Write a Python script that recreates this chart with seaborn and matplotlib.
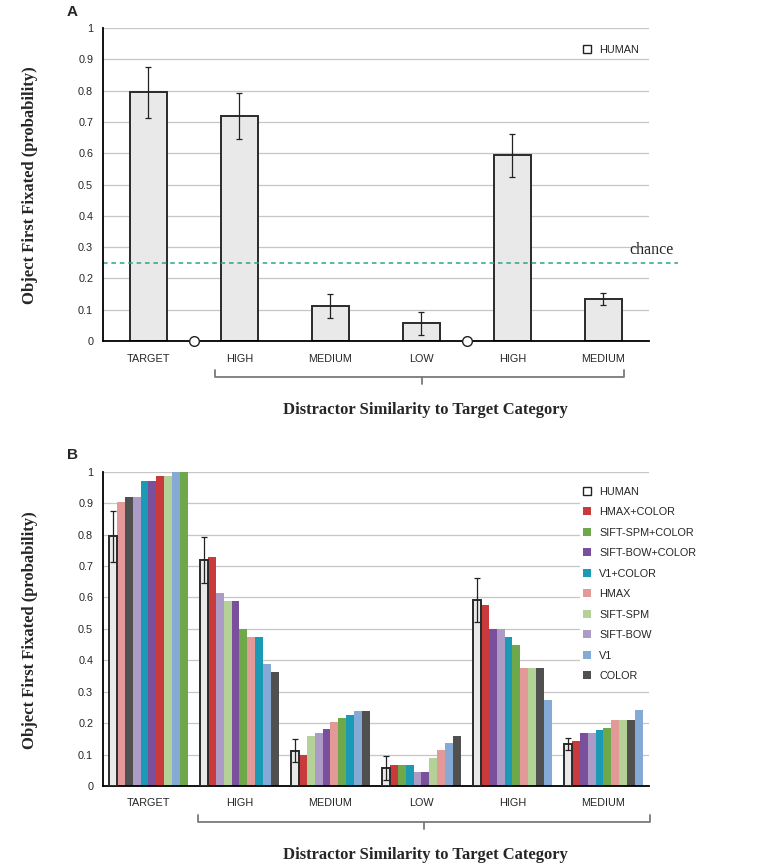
import numpy as np
import pandas as pd
import matplotlib
matplotlib.use('Agg')
import matplotlib.pyplot as plt
from matplotlib.patches import Patch
from matplotlib.lines import Line2D
import seaborn as sns

# categories along the x axis (two blocks of distractor similarity after TARGET)
groups = ['TARGET', 'HIGH', 'MEDIUM', 'LOW', 'HIGH', 'MEDIUM']

# human data (panel A and first bar of every group in panel B)
human = [0.795, 0.72, 0.112, 0.057, 0.593, 0.135]
human_err = [0.081, 0.073, 0.037, 0.037, 0.070, 0.019]

# model data, one value per group
hmax_color = [0.985, 0.728, 0.100, 0.068, 0.575, 0.142]
siftspm_color = [1.000, 0.500, 0.215, 0.068, 0.450, 0.185]
siftbow_color = [0.970, 0.590, 0.182, 0.045, 0.500, 0.167]
v1_color = [0.970, 0.475, 0.226, 0.068, 0.475, 0.177]
hmax = [0.905, 0.475, 0.203, 0.113, 0.375, 0.210]
siftspm = [0.985, 0.590, 0.158, 0.090, 0.375, 0.210]
siftbow = [0.920, 0.615, 0.170, 0.045, 0.500, 0.167]
v1 = [1.000, 0.387, 0.237, 0.137, 0.275, 0.243]
color_only = [0.920, 0.362, 0.237, 0.160, 0.375, 0.210]

models = ['HUMAN', 'HMAX+COLOR', 'SIFT-SPM+COLOR', 'SIFT-BOW+COLOR', 'V1+COLOR',
          'HMAX', 'SIFT-SPM', 'SIFT-BOW', 'V1', 'COLOR']
values = dict(zip(models, [human, hmax_color, siftspm_color, siftbow_color, v1_color,
                           hmax, siftspm, siftbow, v1, color_only]))

# order in which the bars appear inside each group
order_target = ['HUMAN', 'HMAX', 'COLOR', 'SIFT-BOW', 'V1+COLOR', 'SIFT-BOW+COLOR',
                'HMAX+COLOR', 'SIFT-SPM', 'V1', 'SIFT-SPM+COLOR']
order_high1 = ['HUMAN', 'HMAX+COLOR', 'SIFT-BOW', 'SIFT-SPM', 'SIFT-BOW+COLOR',
               'SIFT-SPM+COLOR', 'HMAX', 'V1+COLOR', 'V1', 'COLOR']
order_med1 = ['HUMAN', 'HMAX+COLOR', 'SIFT-SPM', 'SIFT-BOW', 'SIFT-BOW+COLOR',
              'HMAX', 'SIFT-SPM+COLOR', 'V1+COLOR', 'V1', 'COLOR']
order_low = ['HUMAN', 'HMAX+COLOR', 'SIFT-SPM+COLOR', 'V1+COLOR', 'SIFT-BOW',
             'SIFT-BOW+COLOR', 'SIFT-SPM', 'HMAX', 'V1', 'COLOR']
order_high2 = ['HUMAN', 'HMAX+COLOR', 'SIFT-BOW+COLOR', 'SIFT-BOW', 'V1+COLOR',
               'SIFT-SPM+COLOR', 'HMAX', 'SIFT-SPM', 'COLOR', 'V1']
order_med2 = ['HUMAN', 'HMAX+COLOR', 'SIFT-BOW+COLOR', 'SIFT-BOW', 'V1+COLOR',
              'SIFT-SPM+COLOR', 'HMAX', 'SIFT-SPM', 'COLOR', 'V1']
orders = [order_target, order_high1, order_med1, order_low, order_high2, order_med2]

palette = {'HUMAN': '#e9e9e9', 'HMAX+COLOR': '#c83a3c', 'SIFT-SPM+COLOR': '#6fa84a',
           'SIFT-BOW+COLOR': '#7a4f9c', 'V1+COLOR': '#1b9ab6', 'HMAX': '#e49999',
           'SIFT-SPM': '#b4d197', 'SIFT-BOW': '#ab9bc6', 'V1': '#86aad6',
           'COLOR': '#505050'}

sns.set_style('white')
plt.rcParams['font.family'] = ['Liberation Sans', 'DejaVu Sans']
plt.rcParams['axes.linewidth'] = 1.3

fig = plt.figure(figsize=(7.65, 8.68), dpi=100)
axA = fig.add_axes([0.1346, 0.6071, 0.7137, 0.3606])
axB = fig.add_axes([0.1346, 0.0945, 0.7137, 0.3621])

tick_fs = 7.8
grid_c = '#c6c6c6'


def style_axes(ax):
    ax.set_ylim(0, 1)
    ax.set_xlim(-0.5, 5.5)
    ax.set_yticks(np.arange(0, 1.01, 0.1))
    ax.set_yticklabels([f'{v:g}' for v in np.arange(0, 1.01, 0.1).round(1)], fontsize=tick_fs)
    ax.set_xticks(range(len(groups)))
    ax.set_xticklabels(groups, fontsize=tick_fs)
    ax.set_xticks(np.arange(0.5, 6, 1), minor=True)
    ax.tick_params(axis='x', which='major', length=0, pad=9)
    ax.tick_params(axis='x', which='minor', length=4, width=1.1, direction='out', color='black')
    ax.tick_params(axis='y', length=3, width=1.0, direction='out', color='black', pad=4)
    ax.set_xlabel('')
    ax.set_ylabel('')
    ax.grid(axis='y', color=grid_c, linewidth=0.9)
    ax.set_axisbelow(True)
    for s in ['top', 'right']:
        ax.spines[s].set_visible(False)
    for s in ['left', 'bottom']:
        ax.spines[s].set_color('black')


# ---------------- panel A ----------------
dfa = pd.DataFrame({'pos': range(len(groups)), 'value': human})
sns.barplot(data=dfa, x='pos', y='value', color=palette['HUMAN'], width=0.4, saturation=1,
            edgecolor='#2a2a2a', linewidth=1.4, errorbar=None, ax=axA)
axA.errorbar(range(len(groups)), human, yerr=human_err, fmt='none', ecolor='#222222',
             elinewidth=0.9, capsize=2.5, capthick=0.9, zorder=5)
style_axes(axA)
axA.set_xticks([1.5, 2.5, 4.5, 5.5], minor=True)
axA.plot([0.5, 3.5], [0, 0], 'o', ms=7, mfc='white', mec='#222222', mew=1.0,
         clip_on=False, zorder=10)

axA.axhline(0.25, xmin=0, xmax=1.053, color='#2aa58a', linestyle=(0, (3, 2.5)),
            linewidth=1.1, clip_on=False)
axA.text(1.004, 0.29, 'chance', transform=axA.get_yaxis_transform(), ha='center',
         va='center', fontsize=11.5, family='Liberation Serif')

axA.legend(handles=[Patch(facecolor='white', edgecolor='#222222', linewidth=1.0)],
           labels=['HUMAN'], loc='upper left', bbox_to_anchor=(0.864, 0.975),
           frameon=False, fontsize=tick_fs, handlelength=0.75, handleheight=0.75,
           handletextpad=0.7, borderpad=0.3)

# ---------------- panel B ----------------
bar_step = 0.0868
rows = []
for g, order in enumerate(orders):
    for r, m in enumerate(order):
        rows.append({'pos': g + (r - 4.5) * bar_step, 'value': values[m][g], 'model': m})
dfb = pd.DataFrame(rows)

sns.barplot(data=dfb, x='pos', y='value', hue='model', hue_order=models, palette=palette,
            native_scale=True, dodge=False, width=1.0, errorbar=None, linewidth=0,
            saturation=1, legend=False, ax=axB)
human_rgba = matplotlib.colors.to_rgba(palette['HUMAN'])
for p in axB.patches:
    if np.allclose(p.get_facecolor(), human_rgba):
        p.set_edgecolor('#2a2a2a')
        p.set_linewidth(1.4)
        p.set_zorder(3)
human_pos = [g - 4.5 * bar_step for g in range(len(groups))]
axB.errorbar(human_pos, human, yerr=human_err, fmt='none', ecolor='#222222',
             elinewidth=0.9, capsize=2.2, capthick=0.9, zorder=6)
style_axes(axB)

handles = [Patch(facecolor='white', edgecolor='#222222', linewidth=1.0)] + \
          [Patch(facecolor=palette[m], edgecolor='none') for m in models[1:]]
axB.legend(handles=handles, labels=models, loc='upper left', bbox_to_anchor=(0.864, 0.98),
           frameon=True, facecolor='white', edgecolor='none', framealpha=1.0,
           fontsize=tick_fs, handlelength=0.75, handleheight=0.75, handletextpad=0.7,
           labelspacing=0.97, borderpad=0.3, fancybox=False)


# ---------------- brackets and labels ----------------
def bracket(x0, x1, xm, y, up, down):
    W, H = 765.0, 868.0
    c = '#7a7a7a'
    pts_x = [x0, x0, x1, x1]
    pts_y = [y - up, y, y, y - up]
    fig.add_artist(Line2D([v / W for v in pts_x], [1 - v / H for v in pts_y],
                          color=c, linewidth=1.3))
    fig.add_artist(Line2D([xm / W, xm / W], [1 - y / H, 1 - (y + down) / H],
                          color=c, linewidth=1.3))


bracket(215, 624, 422, 377, 7, 7)
bracket(198, 650, 424, 822, 7, 7)

ylab = 'Object First Fixated (probability)'
xlab = 'Distractor Similarity to Target Category'
for yc in [185, 630]:
    fig.text(30 / 765, 1 - yc / 868, ylab, rotation=90, ha='center', va='center',
             fontsize=12, fontweight='bold', family='Liberation Serif')
for yc in [410, 855]:
    fig.text(425 / 765, 1 - yc / 868, xlab, ha='center', va='center',
             fontsize=12, fontweight='bold', family='Liberation Serif')

fig.text(72 / 765, 1 - 12 / 868, 'A', ha='center', va='center', fontsize=11, fontweight='bold')
fig.text(72 / 765, 1 - 455 / 868, 'B', ha='center', va='center', fontsize=11, fontweight='bold')

fig.savefig('out.png', dpi=100, facecolor='white')
